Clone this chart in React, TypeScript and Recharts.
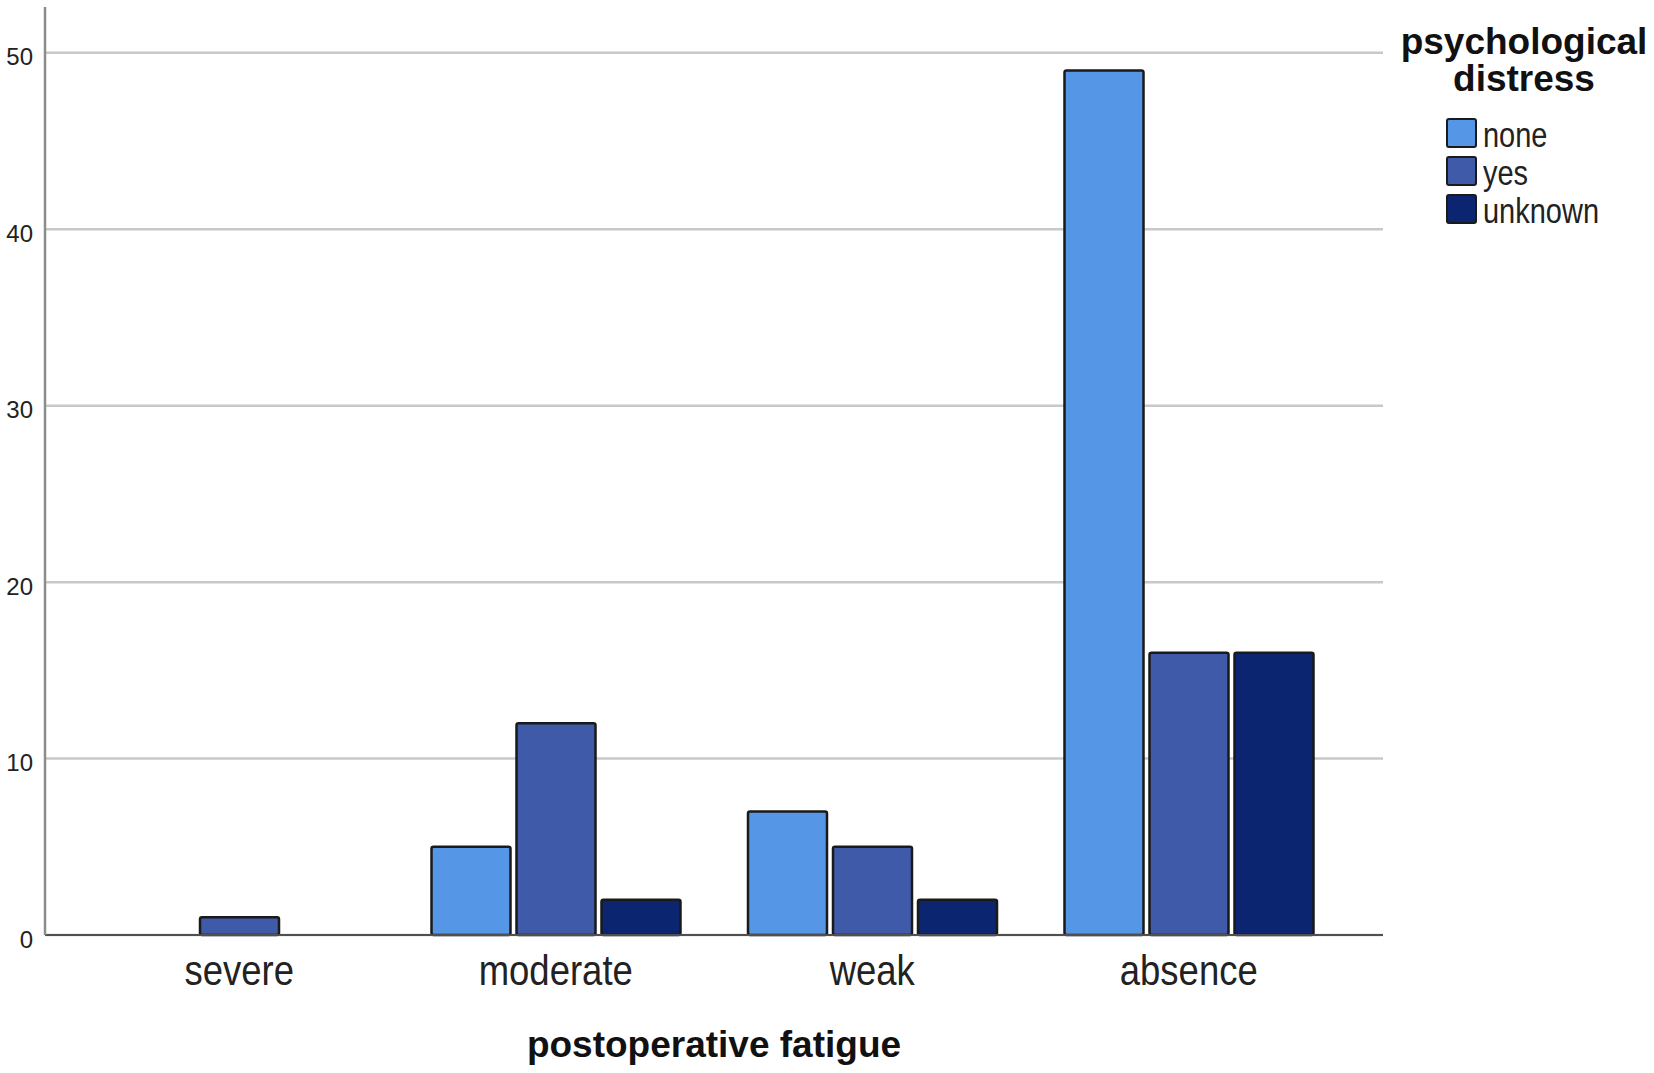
import React from 'react';
import { BarChart, Bar, XAxis, YAxis, CartesianGrid } from 'recharts';

// Values
const categories = ['severe', 'moderate', 'weak', 'absence'];
const noneValues = [0, 5, 7, 49];
const yesValues = [1, 12, 5, 16];
const unknownValues = [0, 2, 2, 16];
const yTicks = [0, 10, 20, 30, 40, 50];

const seriesNames = ['none', 'yes', 'unknown'];
const seriesColors = ['#5596e6', '#3f5aa8', '#0b2570'];
const seriesValues = [noneValues, yesValues, unknownValues];

const legendTitle = ['psychological', 'distress'];
const axisTitle = 'postoperative fatigue';

const data = categories.map((name, i) => {
  const row: Record<string, string | number> = { name };
  seriesNames.forEach((s, j) => {
    row[s] = seriesValues[j][i];
  });
  return row;
});

const FONT = "'Liberation Sans', Arial, sans-serif";

const W = 1654;
const H = 1073;
const PLOT_LEFT = 45;
const PLOT_RIGHT = 1383;

const YTick = (props: any) => {
  const { x, y, payload } = props;
  return (
    <text
      x={x}
      y={y + 4}
      textAnchor="end"
      dominantBaseline="central"
      fontFamily={FONT}
      fontSize={24}
      fill="#222"
    >
      {payload.value}
    </text>
  );
};

const XTick = (props: any) => {
  const { x, y, payload } = props;
  return (
    <text
      transform={`translate(${x},${y + 50}) scale(1,1.18)`}
      textAnchor="middle"
      fontFamily={FONT}
      fontSize={36.5}
      fill="#222"
    >
      {payload.value}
    </text>
  );
};

export default function App() {
  return (
    <div
      style={{
        position: 'absolute',
        left: 0,
        top: 0,
        width: W,
        height: H,
        background: '#fff',
      }}
    >
      <BarChart
        width={W}
        height={H}
        data={data}
        margin={{ top: 7, right: W - PLOT_RIGHT, bottom: 0, left: 0 }}
        barCategoryGap={34}
        barGap={6}
      >
        {/* syncWithTicks keeps lines to the labelled ticks only (no top edge line) */}
        <CartesianGrid
          vertical={false}
          stroke="#c8c8c8"
          strokeWidth={2.5}
          syncWithTicks
        />
        <XAxis
          dataKey="name"
          height={138}
          padding={{ left: 36, right: 36 }}
          tickSize={0}
          tickMargin={0}
          tickLine={false}
          axisLine={{ stroke: '#505050', strokeWidth: 2 }}
          tick={<XTick />}
          interval={0}
        />
        <YAxis
          width={45}
          domain={[0, 52.6]}
          ticks={yTicks}
          tickSize={0}
          tickMargin={12}
          tickLine={false}
          axisLine={{ stroke: '#8c8c8c', strokeWidth: 2.5 }}
          tick={<YTick />}
          interval={0}
        />
        {seriesNames.map((s, j) => (
          <Bar
            key={s}
            dataKey={s}
            fill={seriesColors[j]}
            stroke="#1a1a1a"
            strokeWidth={2.5}
            radius={2}
            isAnimationActive={false}
          />
        ))}
      </BarChart>

      <svg
        width={W}
        height={H}
        style={{ position: 'absolute', left: 0, top: 0, pointerEvents: 'none' }}
      >
        <text
          x={(PLOT_LEFT + PLOT_RIGHT) / 2}
          y={1057}
          textAnchor="middle"
          fontFamily={FONT}
          fontWeight="bold"
          fontSize={37}
          fill="#111"
        >
          {axisTitle}
        </text>

        {legendTitle.map((line, i) => (
          <text
            key={line}
            x={1524}
            y={54 + i * 37}
            textAnchor="middle"
            fontFamily={FONT}
            fontWeight="bold"
            fontSize={37}
            fill="#111"
          >
            {line}
          </text>
        ))}

        {seriesNames.map((s, j) => (
          <g key={s}>
            <rect
              x={1447}
              y={119 + j * 38}
              width={29}
              height={28}
              rx={2}
              fill={seriesColors[j]}
              stroke="#1a1a1a"
              strokeWidth={2}
            />
            <text
              transform={`translate(1483,${147 + j * 38}) scale(1,1.18)`}
              fontFamily={FONT}
              fontSize={29}
              fill="#222"
            >
              {s}
            </text>
          </g>
        ))}
      </svg>
    </div>
  );
}
